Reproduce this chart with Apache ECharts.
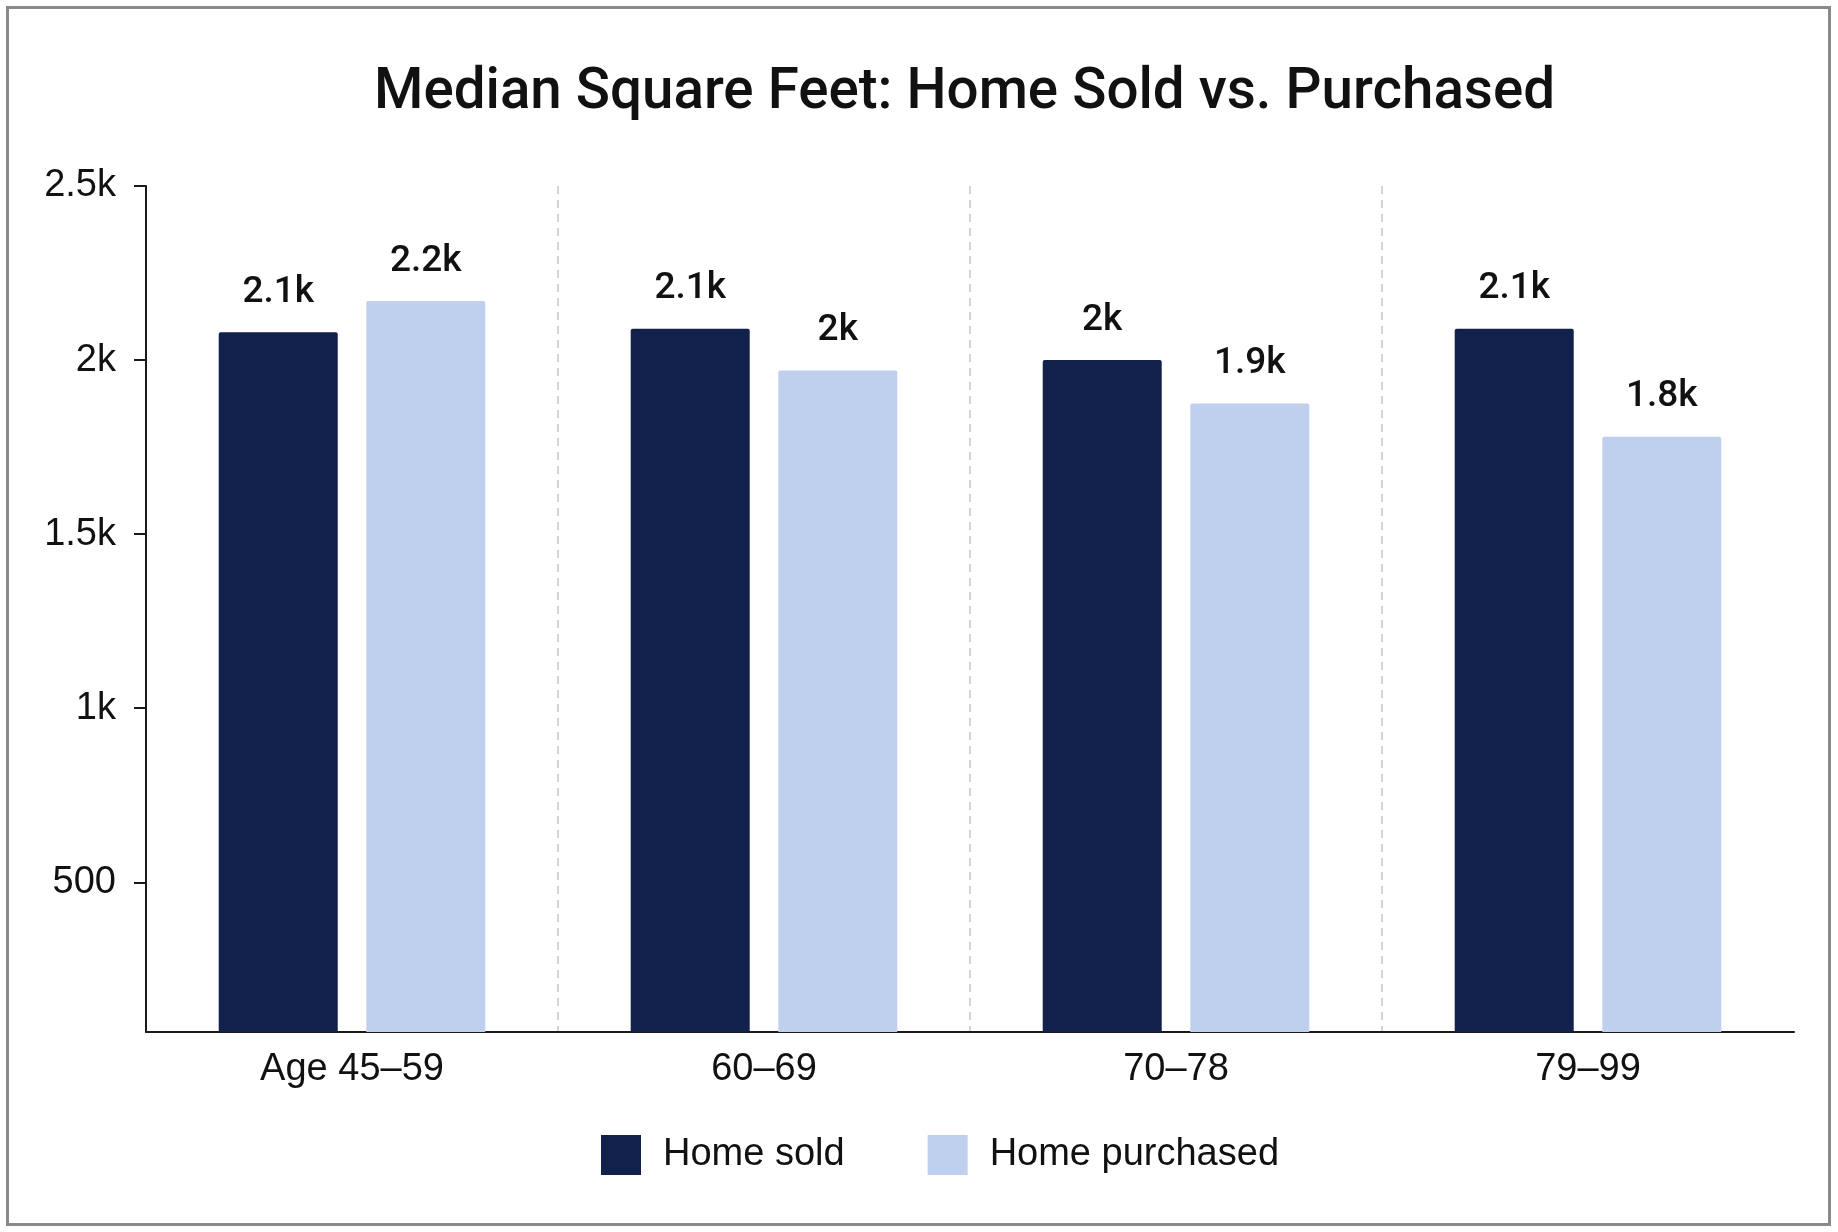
<!DOCTYPE html>
<html>
<head>
<meta charset="utf-8">
<script src="https://cdn.jsdelivr.net/npm/echarts@6.0.0/dist/echarts.min.js"></script>
<style>
  html, body { margin: 0; padding: 0; background: #ffffff; }
  #chart { position: absolute; left: 0; top: 0; width: 1838px; height: 1232px; }
  #frame { position: absolute; left: 6px; top: 6px; width: 1819px; height: 1214px;
           border: 3px solid #8a8a8a; pointer-events: none; }
</style>
</head>
<body>
<div id="chart"></div>
<div id="frame"></div>
<script>
const categories = ['Age 45\u201359', '60\u201369', '70\u201378', '79\u201399'];
const homeSold = [2080, 2090, 2000, 2090];
const homePurchased = [2170, 1970, 1875, 1780];
const yTicks = [500, 1000, 1500, 2000, 2500];
const seriesNames = ['Home sold', 'Home purchased'];
const colors = ['#11214b', '#bed0ee'];

const FONT = '"Liberation Sans", Arial, Helvetica, sans-serif';
const FONT_MED = 'Roboto, "Liberation Sans", Arial, sans-serif';

function kFmt(v) {
  if (v >= 1000) return (Math.round(v / 100) / 10) + 'k';
  return String(v);
}

const chart = echarts.init(document.getElementById('chart'), null, { renderer: 'canvas' });

const labelStyle = {
  show: true,
  position: 'top',
  distance: 21,
  fontFamily: FONT_MED,
  fontSize: 37,
  fontWeight: 500,
  color: '#111111',
  formatter: p => kFmt(p.value)
};

chart.setOption({
  backgroundColor: '#ffffff',
  animation: false,
  title: {
    text: 'Median Square Feet: Home Sold vs. Purchased',
    left: 369,
    top: 60,
    textStyle: { fontFamily: FONT_MED, fontSize: 56.5, fontWeight: 500, color: '#111111' }
  },
  legend: {
    data: seriesNames,
    left: 596,
    top: 1130,
    icon: 'rect',
    itemWidth: 40,
    itemHeight: 40,
    itemGap: 83,
    textStyle: { fontFamily: FONT, fontSize: 38, color: '#111111', padding: [0, 0, 0, 17] }
  },
  grid: { left: 146, right: 44, top: 186, bottom: 200 },
  xAxis: {
    type: 'category',
    data: categories,
    axisLine: { show: true, lineStyle: { color: '#1a1a1a', width: 2 } },
    axisTick: { show: false },
    axisLabel: { fontFamily: FONT, fontSize: 38, color: '#111111', margin: 19 },
    splitLine: {
      show: true,
      showMinLine: false,
      showMaxLine: false,
      lineStyle: { color: '#c6c6c6', width: 1.5, type: [8, 6] }
    }
  },
  yAxis: {
    type: 'value',
    min: 70,
    max: 2500,
    axisLine: { show: true, lineStyle: { color: '#1a1a1a', width: 2 } },
    axisTick: { show: true, length: 12, inside: false, customValues: yTicks,
                lineStyle: { color: '#1a1a1a', width: 2 } },
    axisLabel: { fontFamily: FONT, fontSize: 38, color: '#111111', margin: 30,
                 customValues: yTicks, formatter: v => kFmt(v) },
    splitLine: { show: false }
  },
  series: [
    {
      name: seriesNames[0],
      type: 'bar',
      data: homeSold,
      barWidth: 119,
      barGap: '24%',
      itemStyle: { color: colors[0], borderRadius: [2, 2, 0, 0] },
      label: labelStyle
    },
    {
      name: seriesNames[1],
      type: 'bar',
      data: homePurchased,
      barWidth: 119,
      barGap: '24%',
      itemStyle: { color: colors[1], borderRadius: [2, 2, 0, 0] },
      label: labelStyle
    }
  ]
});
</script>
</body>
</html>
